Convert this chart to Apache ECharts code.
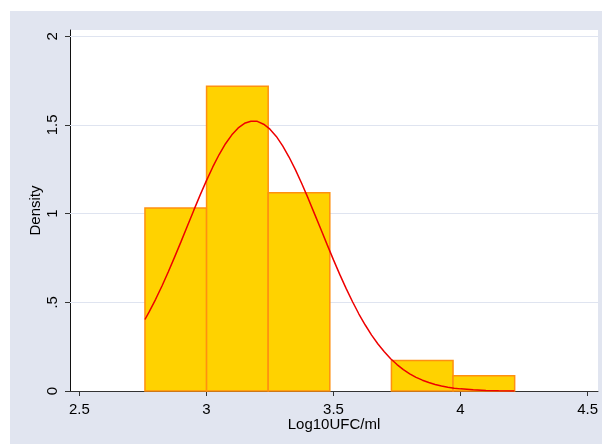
<!DOCTYPE html>
<html>
<head>
<meta charset="utf-8">
<script src="https://cdn.jsdelivr.net/npm/echarts@6/dist/echarts.min.js"></script>
<style>
html,body{margin:0;padding:0;background:#fff;}
#chart{width:602px;height:444px;}
</style>
</head>
<body>
<div id="chart"></div>
<script>
// Histogram bins (Log10UFC/ml) and densities
const binEdges = [2.758, 3.0005, 3.243, 3.4855, 3.728, 3.9705, 4.213];
const binDensity = [1.031, 1.718, 1.117, 0, 0.172, 0.086];
// Normal density overlay
const curveX = [2.758, 2.775, 2.80, 2.825, 2.85, 2.875, 2.90, 2.925, 2.95, 2.975,
  3.00, 3.025, 3.05, 3.075, 3.10, 3.125, 3.15, 3.175, 3.20, 3.225,
  3.25, 3.275, 3.30, 3.325, 3.35, 3.375, 3.40, 3.425, 3.45, 3.475,
  3.50, 3.525, 3.55, 3.575, 3.60, 3.625, 3.65, 3.675, 3.70, 3.725,
  3.75, 3.775, 3.80, 3.825, 3.85, 3.875, 3.90, 3.925, 3.95, 3.975,
  4.00, 4.05, 4.10, 4.15, 4.212];
const curveY = [0.403, 0.447, 0.517, 0.592, 0.672, 0.756, 0.842, 0.930, 1.018, 1.104,
  1.186, 1.263, 1.333, 1.394, 1.444, 1.483, 1.509, 1.521, 1.520, 1.504,
  1.476, 1.435, 1.382, 1.319, 1.248, 1.170, 1.087, 1.000, 0.913, 0.825,
  0.739, 0.656, 0.577, 0.503, 0.434, 0.372, 0.315, 0.265, 0.221, 0.182,
  0.149, 0.121, 0.097, 0.077, 0.061, 0.048, 0.037, 0.028, 0.021, 0.016,
  0.012, 0.0065, 0.0034, 0.0017, 0.0007];
const xTicks = [2.5, 3, 3.5, 4, 4.5];
const yTicks = [0, 0.5, 1, 1.5, 2];
const xName = 'Log10UFC/ml';
const yName = 'Density';

const barData = binDensity.map((d, i) => [binEdges[i], binEdges[i + 1], d]);
const curveData = curveX.map((x, i) => [x, curveY[i]]);
const gridLineData = yTicks.filter(v => v > 0).map(v => [[2.463, v], [4.541, v]]);

const font = "'Liberation Sans', Arial, sans-serif";
const chart = echarts.init(document.getElementById('chart'), null, {renderer: 'canvas'});
chart.setOption({
  backgroundColor: '#ffffff',
  animation: false,
  graphic: {
    elements: [
      {type: 'rect', z: -10, silent: true, shape: {x: 10, y: 11, width: 592, height: 433}, style: {fill: '#e1e5f0'}}
    ]
  },
  grid: {left: 70, right: 4, top: 30, bottom: 53, containLabel: false, show: true,
    backgroundColor: '#ffffff', borderWidth: 0},
  xAxis: {
    type: 'value', min: 2.463, max: 4.541,
    name: xName, nameLocation: 'middle', nameGap: 26, nameMoveOverlap: false,
    nameTextStyle: {fontFamily: font, fontSize: 15, color: '#000'},
    axisLine: {show: true, onZero: false, lineStyle: {color: '#333', width: 1}},
    axisTick: {show: true, length: 5, customValues: xTicks, lineStyle: {color: '#333'}},
    axisLabel: {fontFamily: font, fontSize: 15, color: '#000', margin: 11,
      customValues: xTicks, formatter: v => String(v)},
    splitLine: {show: false}
  },
  yAxis: {
    type: 'value', min: 0, max: 2.035,
    name: yName, nameLocation: 'middle', nameGap: 27, nameMoveOverlap: false,
    nameTextStyle: {fontFamily: font, fontSize: 15, color: '#000'},
    axisLine: {show: true, lineStyle: {color: '#111', width: 1}},
    axisTick: {show: true, length: 5, customValues: yTicks, lineStyle: {color: '#333'}},
    axisLabel: {fontFamily: font, fontSize: 15, color: '#000', rotate: 90, margin: 10,
      customValues: yTicks,
      formatter: v => (v === 0 ? '0' : String(v).replace(/^0\./, '.'))},
    splitLine: {show: false}
  },
  series: [
    {
      type: 'lines',
      coordinateSystem: 'cartesian2d',
      data: gridLineData.map(c => ({coords: c})),
      z: 1,
      silent: true,
      lineStyle: {color: '#dfe4f0', width: 1, opacity: 1}
    },
    {
      type: 'custom',
      data: barData,
      encode: {x: [0, 1], y: 2},
      z: 2,
      renderItem: function (params, api) {
        const h = api.value(2);
        if (!(h > 0)) return null;
        const p0 = api.coord([api.value(0), h]);
        const p1 = api.coord([api.value(1), 0]);
        return {
          type: 'rect',
          shape: {x: p0[0], y: p0[1], width: p1[0] - p0[0], height: p1[1] - p0[1]},
          style: {fill: '#ffd200', stroke: '#ff9010', lineWidth: 1.5}
        };
      }
    },
    {
      type: 'line',
      data: curveData,
      smooth: false,
      showSymbol: false,
      z: 3,
      lineStyle: {color: '#ee0000', width: 1.5}
    }
  ]
});
</script>
</body>
</html>
